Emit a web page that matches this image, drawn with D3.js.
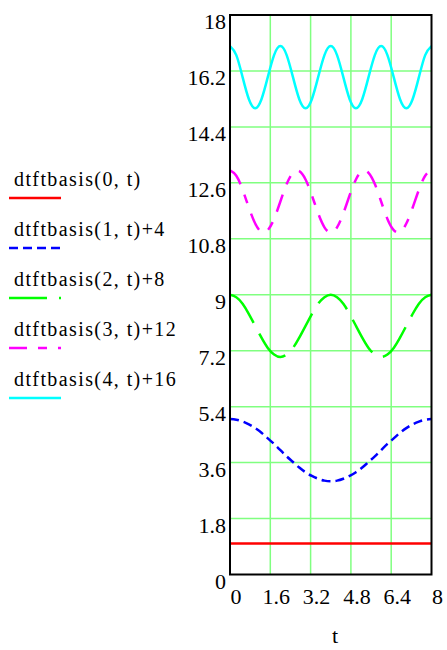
<!DOCTYPE html>
<html>
<head>
<meta charset="utf-8">
<script src="https://cdn.jsdelivr.net/npm/d3@7"></script>
<style>
  body { margin: 0; background: #fff; }
  svg { display: block; }
</style>
</head>
<body>
<svg id="chart" width="447" height="650"></svg>
<script>
// t samples (every 0.25)
const tVals = [0, 0.25, 0.5, 0.75, 1, 1.25, 1.5, 1.75, 2, 2.25, 2.5, 2.75, 3, 3.25, 3.5, 3.75,
  4, 4.25, 4.5, 4.75, 5, 5.25, 5.5, 5.75, 6, 6.25, 6.5, 6.75, 7, 7.25, 7.5, 7.75, 8];

const basis0 = [1, 1, 1, 1, 1, 1, 1, 1, 1, 1, 1, 1, 1, 1, 1, 1,
  1, 1, 1, 1, 1, 1, 1, 1, 1, 1, 1, 1, 1, 1, 1, 1, 1];
const basis1 = [5, 4.98, 4.92, 4.83, 4.71, 4.56, 4.38, 4.2, 4, 3.8, 3.62, 3.44, 3.29, 3.17, 3.08, 3.02,
  3, 3.02, 3.08, 3.17, 3.29, 3.44, 3.62, 3.8, 4, 4.2, 4.38, 4.56, 4.71, 4.83, 4.92, 4.98, 5];
const basis2 = [9, 8.92, 8.71, 8.38, 8, 7.62, 7.29, 7.08, 7, 7.08, 7.29, 7.62, 8, 8.38, 8.71, 8.92,
  9, 8.92, 8.71, 8.38, 8, 7.62, 7.29, 7.08, 7, 7.08, 7.29, 7.62, 8, 8.38, 8.71, 8.92, 9];
const basis3 = [13, 12.83, 12.38, 11.8, 11.29, 11.02, 11.08, 11.44, 12, 12.56, 12.92, 12.98, 12.71, 12.2, 11.62, 11.17,
  11, 11.17, 11.62, 12.2, 12.71, 12.98, 12.92, 12.56, 12, 11.44, 11.08, 11.02, 11.29, 11.8, 12.38, 12.83, 13];
const basis4 = [17, 16.71, 16, 15.29, 15, 15.29, 16, 16.71, 17, 16.71, 16, 15.29, 15, 15.29, 16, 16.71,
  17, 16.71, 16, 15.29, 15, 15.29, 16, 16.71, 17, 16.71, 16, 15.29, 15, 15.29, 16, 16.71, 17];

const legendLabels = ["dtftbasis(0, t)", "dtftbasis(1, t)+4", "dtftbasis(2, t)+8",
  "dtftbasis(3, t)+12", "dtftbasis(4, t)+16"];
const xTicks = [0, 1.6, 3.2, 4.8, 6.4, 8];
const yTicks = [0, 1.8, 3.6, 5.4, 7.2, 9, 10.8, 12.6, 14.4, 16.2, 18];

const series = [
  { vals: basis0, color: "#ff0000", dash: null },
  { vals: basis1, color: "#0000ff", dash: "9,5" },
  { vals: basis2, color: "#00ff00", dash: "38,12" },
  { vals: basis3, color: "#ff00ff", dash: "18,11,9,11" },
  { vals: basis4, color: "#00ffff", dash: null },
];

const serif = "Liberation Serif";
const svg = d3.select("#chart");
const pLeft = 230, pRight = 431.5, pTop = 15, pBottom = 574.5;

const x = d3.scaleLinear().domain([0, 8]).range([pLeft, pRight]);
const y = d3.scaleLinear().domain([0, 18]).range([pBottom, pTop]);

// grid
const grid = svg.append("g").attr("stroke", "#80ff80").attr("stroke-width", 1.5);
grid.selectAll(".gx").data(xTicks.slice(1, -1)).join("line")
  .attr("x1", d => x(d)).attr("x2", d => x(d)).attr("y1", pTop).attr("y2", pBottom);
grid.selectAll(".gy").data(yTicks.slice(1, -1)).join("line")
  .attr("y1", d => y(d)).attr("y2", d => y(d)).attr("x1", pLeft).attr("x2", pRight);

// clip for curves
svg.append("clipPath").attr("id", "clip").append("rect")
  .attr("x", pLeft).attr("y", pTop).attr("width", pRight - pLeft).attr("height", pBottom - pTop);

const line = d3.line().x((d, i) => x(tVals[i])).y(d => y(d)).curve(d3.curveNatural);

svg.append("g").attr("clip-path", "url(#clip)")
  .selectAll("path").data(series).join("path")
  .attr("d", d => line(d.vals))
  .attr("fill", "none")
  .attr("stroke", d => d.color)
  .attr("stroke-width", 2.5)
  .attr("stroke-dasharray", d => d.dash);

// frame
svg.append("rect").attr("x", pLeft).attr("y", pTop)
  .attr("width", pRight - pLeft).attr("height", pBottom - pTop)
  .attr("fill", "none").attr("stroke", "#000").attr("stroke-width", 2);

// y tick labels
svg.append("g").selectAll("text").data(yTicks).join("text")
  .attr("x", 226).attr("y", d => y(d) + 14)
  .attr("text-anchor", "end")
  .attr("font-family", serif).attr("font-size", 22)
  .text(d => d);

// x tick labels
svg.append("g").selectAll("text").data(xTicks).join("text")
  .attr("x", d => x(d) + 6).attr("y", 604)
  .attr("text-anchor", "middle")
  .attr("font-family", serif).attr("font-size", 22)
  .text(d => d);

svg.append("text").attr("x", 335).attr("y", 643).attr("text-anchor", "middle")
  .attr("font-family", serif).attr("font-size", 22).text("t");

// legend
const lg = svg.append("g").selectAll("g").data(series).join("g")
  .attr("transform", (d, i) => `translate(0,${186 + i * 50})`);
lg.append("text").attr("x", 14).attr("y", 0)
  .attr("font-family", serif).attr("font-size", 20).attr("letter-spacing", 1.4)
  .text((d, i) => legendLabels[i]);
lg.append("line").attr("x1", 9).attr("x2", 61).attr("y1", 12).attr("y2", 12)
  .attr("stroke", d => d.color).attr("stroke-width", 2.5)
  .attr("stroke-dasharray", d => d.dash);
</script>
</body>
</html>
